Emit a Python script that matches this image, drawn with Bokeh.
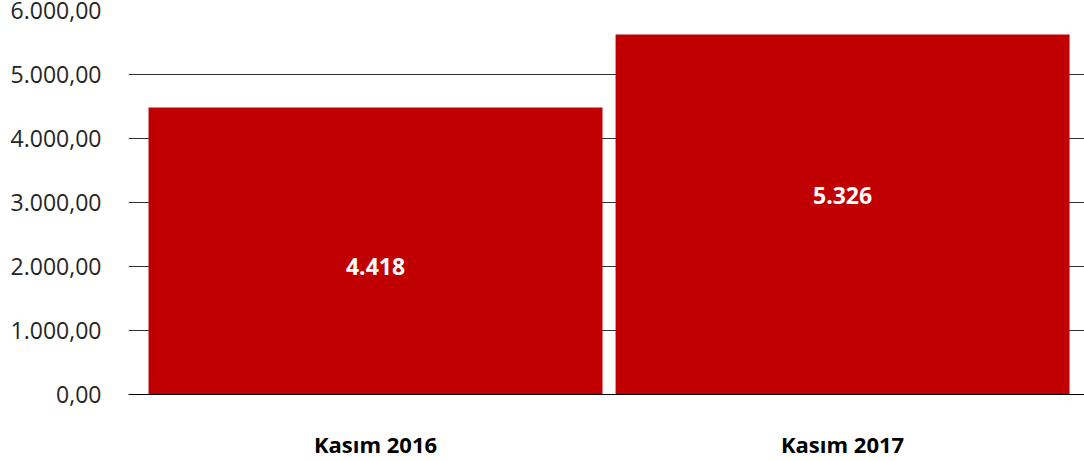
from bokeh.plotting import figure
from bokeh.models import ColumnDataSource, FixedTicker, Range1d
from bokeh.embed import file_html
from bokeh.resources import INLINE
from bokeh.core.properties import value

categories = ["Kasım 2016", "Kasım 2017"]
values = [4484, 5625]
value_labels = ["4.418", "5.326"]
y_ticks = [0, 1000, 2000, 3000, 4000, 5000, 6000]
y_tick_labels = ["0,00", "1.000,00", "2.000,00", "3.000,00", "4.000,00", "5.000,00", "6.000,00"]
label_heights = [2000, 3110]

xs = [i + 0.5 for i in range(len(categories))]
src = ColumnDataSource(dict(x=xs, top=values, lab=value_labels, ly=label_heights))

p = figure(width=1084, height=461, output_backend="svg", toolbar_location=None,
           x_range=Range1d(-0.0289, 2.018), y_range=Range1d(0, 6000),
           min_border_left=128, min_border_right=0, min_border_top=10, min_border_bottom=67)
p.outline_line_color = None
p.background_fill_color = "white"
p.border_fill_color = "white"

p.vbar(x="x", top="top", width=0.972, source=src, color="#C00000", line_color=None)
p.text(x="x", y="ly", text="lab", source=src, text_color="white",
       text_font=value("Open Sans"), text_font_style="bold", text_font_size="23px",
       text_align="center", text_baseline="middle")

p.xgrid.grid_line_color = None
p.ygrid.grid_line_color = "#333333"
p.ygrid.grid_line_width = 1
p.ygrid.ticker = FixedTicker(ticks=y_ticks)

p.yaxis.ticker = FixedTicker(ticks=y_ticks)
p.yaxis.major_label_overrides = {t: l for t, l in zip(y_ticks, y_tick_labels)}
p.yaxis.axis_line_color = None
p.yaxis.major_tick_line_color = None
p.yaxis.minor_tick_line_color = None
p.yaxis.major_label_text_font = "Open Sans"
p.yaxis.major_label_text_font_size = "23px"
p.yaxis.major_label_text_color = "#262626"
p.yaxis.major_label_standoff = 21

p.xaxis.ticker = FixedTicker(ticks=xs)
p.xaxis.major_label_overrides = {x: c for x, c in zip(xs, categories)}
p.xaxis.axis_line_color = "black"
p.xaxis.axis_line_width = 1
p.xaxis.major_tick_line_color = None
p.xaxis.minor_tick_line_color = None
p.xaxis.major_label_text_font = "Open Sans"
p.xaxis.major_label_text_font_style = "bold"
p.xaxis.major_label_text_font_size = "22px"
p.xaxis.major_label_text_color = "#000000"
p.xaxis.major_label_standoff = 28

open("out.html", "w").write(file_html(p, INLINE))
